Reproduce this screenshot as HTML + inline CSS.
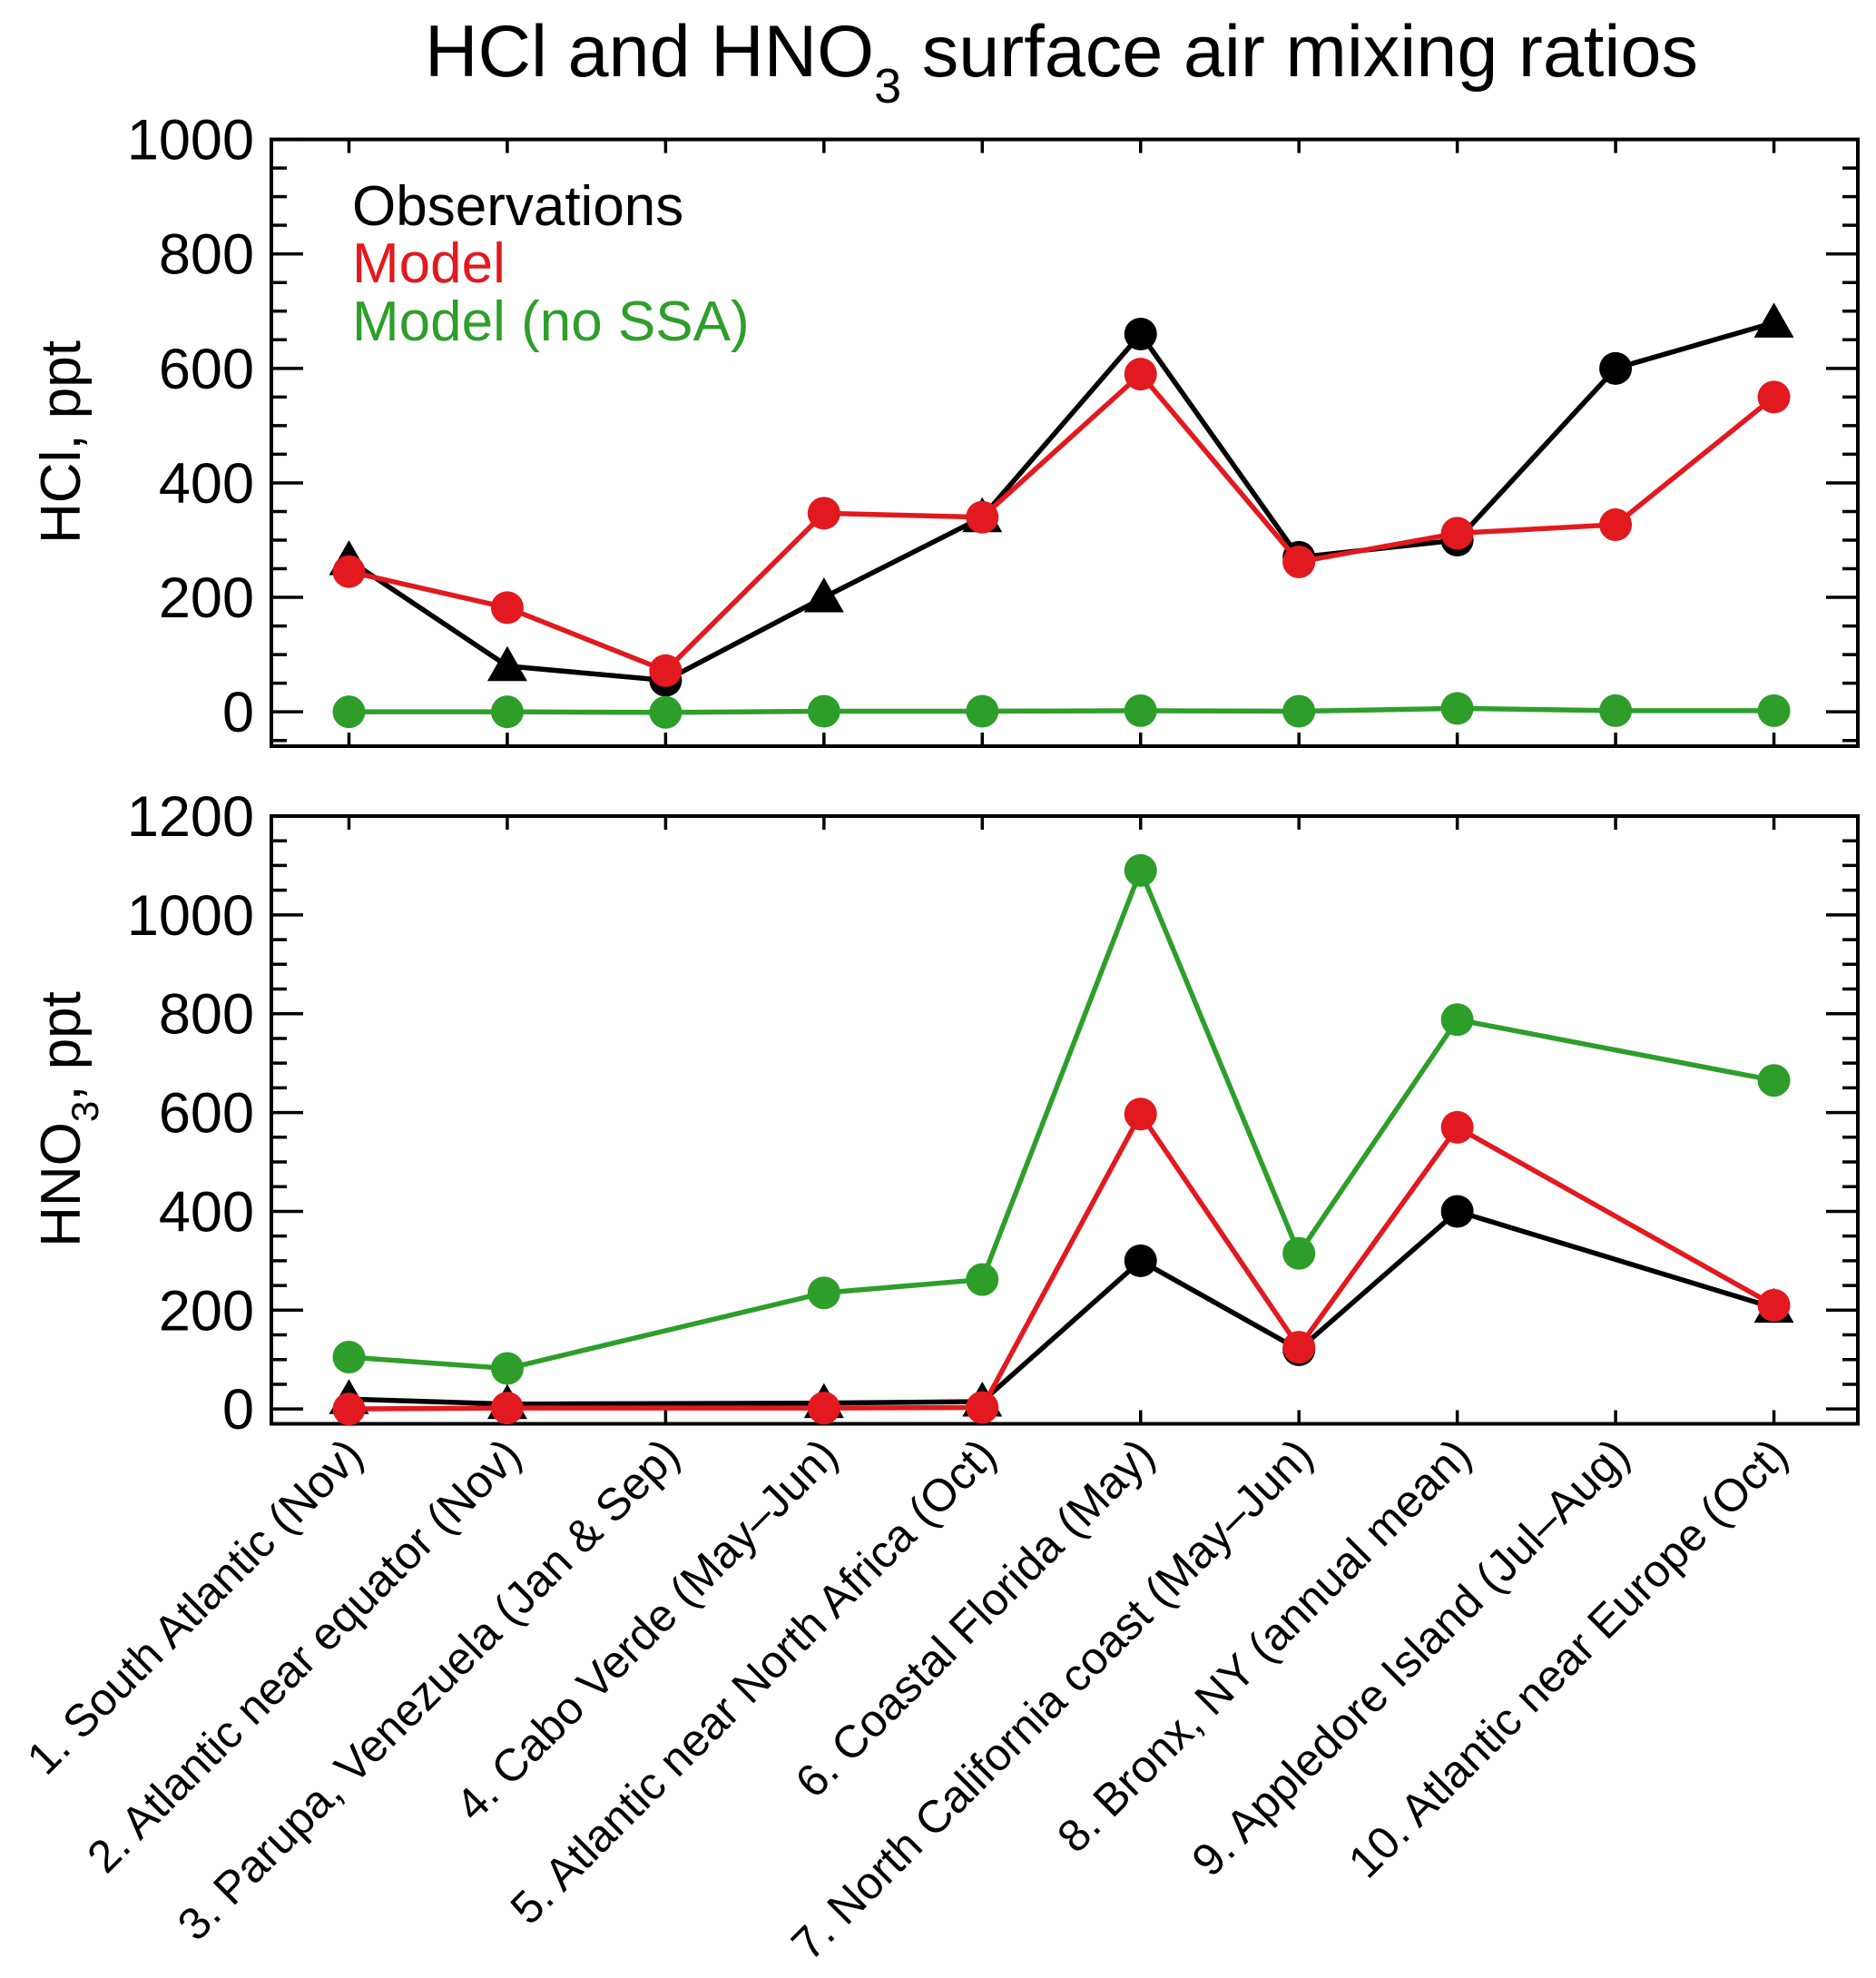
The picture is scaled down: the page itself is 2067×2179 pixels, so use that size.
<!DOCTYPE html>
<html><head><meta charset="utf-8"><style>
html,body{margin:0;padding:0;background:#fff;}
svg{display:block;font-family:"Liberation Sans",Arial,sans-serif;}
</style></head><body>
<svg id="chart" width="2067" height="2179" viewBox="0 0 2067 2179">
<text x="468" y="84" font-size="81" fill="#000">HCl and HNO<tspan font-size="54" dy="29">3</tspan><tspan dy="-29"> surface air mixing ratios</tspan></text>
<g id="top"></g>
<g id="bot"></g>
<g id="xl"></g>
<text transform="translate(88,487) rotate(-90)" text-anchor="middle" font-size="62">HCl, ppt</text>
<text transform="translate(88,1233) rotate(-90)" text-anchor="middle" font-size="62">HNO<tspan font-size="42" dy="20">3</tspan><tspan dy="-20">, ppt</tspan></text>
<text x="388" y="248" font-size="62" fill="#000">Observations</text>
<text x="388" y="311" font-size="62" fill="#e2191e">Model</text>
<text x="388" y="375" font-size="62" fill="#2e9e2b">Model (no SSA)</text>
</svg>
<script>
const categories = ["1. South Atlantic (Nov)","2. Atlantic near equator (Nov)","3. Parupa, Venezuela (Jan & Sep)","4. Cabo Verde (May\u2013Jun)","5. Atlantic near North Africa (Oct)","6. Coastal Florida (May)","7. North California coast (May\u2013Jun)","8. Bronx, NY (annual mean)","9. Appledore Island (Jul\u2013Aug)","10. Atlantic near Europe (Oct)"];
const hclObs = [265, 80, 55, 200, 340, 660, 270, 300, 600, 680];
const hclObsTri = [1,1,0,1,1,0,0,0,0,1];
const hclModel = [245, 182, 72, 347, 340, 590, 262, 312, 327, 550];
const hclNoSSA = [0, 0, -1, 1, 1, 2, 1, 6, 2, 2];
const hno3Obs = [20, 10, null, 12, 15, 300, 120, 400, null, 205];
const hno3ObsTri = [1,1,0,1,1,0,0,0,0,1];
const hno3Model = [0, 2, null, 2, 3, 597, 125, 570, null, 210];
const hno3NoSSA = [105, 82, null, 235, 262, 1090, 315, 788, null, 665];
const hclTicks = [0,200,400,600,800,1000];
const hno3Ticks = [0,200,400,600,800,1000,1200];

const NS="http://www.w3.org/2000/svg";
const X0=299,X1=2047;
function xs(i){return X0+(i+0.49)*(X1-X0)/10.02;}
function mk(p,tag,at){const e=document.createElementNS(NS,tag);for(const k in at)e.setAttribute(k,at[k]);p.appendChild(e);return e;}

function panel(g,yTop,yBot,vMin,vMax,ticks,minorStep,series,prefix){
  const ys=v=>yBot-(v-vMin)/(vMax-vMin)*(yBot-yTop);
  const fr=mk(g,'rect',{x:X0,y:yTop,width:X1-X0,height:yBot-yTop,fill:'none',stroke:'#000','stroke-width':4});
  
  
  for(let v=Math.ceil(vMin/minorStep)*minorStep;v<=vMax;v+=minorStep){
    const major=ticks.includes(v);const L=major?35:17;const y=ys(v);
    const a=mk(g,'line',{x1:X0,x2:X0+L,y1:y,y2:y,stroke:'#000','stroke-width':3.5});
    
    
    const b=mk(g,'line',{x1:X1,x2:X1-L,y1:y,y2:y,stroke:'#000','stroke-width':3.5});
    
    
  }
  ticks.forEach(v=>{
    const t=mk(g,'text',{x:280,y:ys(v)+22,'text-anchor':'end','font-size':63});
    t.textContent=v;
    
    
  });
  for(let i=0;i<10;i++){
    const x=xs(i);
    const a=mk(g,'line',{x1:x,x2:x,y1:yTop,y2:yTop+15,stroke:'#000','stroke-width':3.5});
    
    
    const b=mk(g,'line',{x1:x,x2:x,y1:yBot,y2:yBot-15,stroke:'#000','stroke-width':3.5});
    
    
  }
  series.forEach(s=>{
    const pts=[];s.vals.forEach((v,i)=>{if(v!==null)pts.push([xs(i),ys(v),i]);});
    const pl=mk(g,'polyline',{points:pts.map(p=>p[0]+','+p[1]).join(' '),fill:'none',stroke:s.color,'stroke-width':5.5,'stroke-linejoin':'round'});
    
    
    pts.forEach(p=>{
      let m;
      if(s.tri&&s.tri[p[2]]){
        const r=22;
        m=mk(g,'polygon',{points:`${p[0]},${p[1]-r} ${p[0]-r},${p[1]+r*0.75} ${p[0]+r},${p[1]+r*0.75}`,fill:s.color});
      } else {
        m=mk(g,'circle',{cx:p[0],cy:p[1],r:18,fill:s.color});
      }
      
      
    });
  });
}
panel(document.getElementById('top'),153.6,822,-60,1000,hclTicks,50,[
  {name:'observations',vals:hclObs,color:'#000',tri:hclObsTri},
  {name:'model',vals:hclModel,color:'#e2191e'},
  {name:'model-no-ssa',vals:hclNoSSA,color:'#2e9e2b'}],'hcl');
panel(document.getElementById('bot'),899,1568.5,-30,1200,hno3Ticks,50,[
  {name:'model-no-ssa',vals:hno3NoSSA,color:'#2e9e2b'},
  {name:'observations',vals:hno3Obs,color:'#000',tri:hno3ObsTri},
  {name:'model',vals:hno3Model,color:'#e2191e'}],'hno3');
const xl=document.getElementById('xl');
categories.forEach((c,i)=>{
  const x=xs(i)+18,y=1606;
  const t=mk(xl,'text',{transform:`translate(${x},${y}) rotate(-45)`,'text-anchor':'end','font-size':50});
  t.textContent=c;
  
  
});
</script>
</body></html>
